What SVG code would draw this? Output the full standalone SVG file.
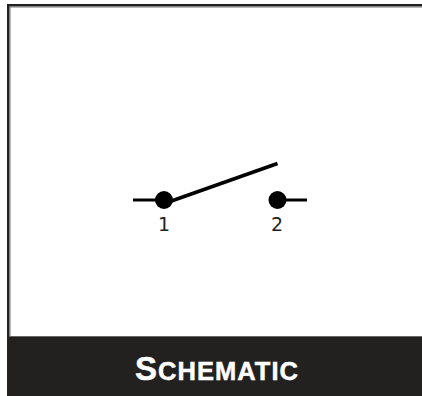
<svg xmlns="http://www.w3.org/2000/svg" width="422" height="396" viewBox="0 0 422 396">
<style>
.w{stroke:#000;stroke-width:3;fill:none}
.d{fill:#000}
.l{font-family:"DejaVu Sans",Verdana,sans-serif;font-size:19px;fill:#222;text-anchor:middle}
.t{font-family:"Liberation Sans",Arial,sans-serif;font-weight:700;fill:#fff;stroke:#fff;stroke-width:.5px}
</style>
<rect width="422" height="396" fill="#fff"/>
<g id="frame">
<rect x="7" y="4" width="415" height="2.500" fill="#222120"/>
<rect x="9" y="6.500" width="413" height="1" fill="#777"/>
<rect x="7" y="4" width="2.500" height="333" fill="#222120"/>
<rect x="9.500" y="6" width="1" height="331" fill="#777"/>
<rect x="9" y="336" width="413" height="1" fill="#666"/>
</g>
<g id="banner">
<rect x="7" y="337" width="415" height="59" fill="#222120"/>
<text class="t" x="135" y="380" font-size="33" textLength="163" lengthAdjust="spacing">S<tspan font-size="25.500">CHEMATIC</tspan></text>
</g>
<g id="connectors">
<path class="w" d="M133 200H164"/>
<path class="w" d="M277 200H307"/>
<path class="w" style="stroke-width:3.500" d="M170 201.500L277.500 163.500"/>
</g>
<g id="node-1"><circle class="d" cx="164" cy="200" r="9"/><text class="l" x="164" y="231">1</text></g>
<g id="node-2"><circle class="d" cx="277.500" cy="200" r="9"/><text class="l" x="277" y="231">2</text></g>
</svg>
